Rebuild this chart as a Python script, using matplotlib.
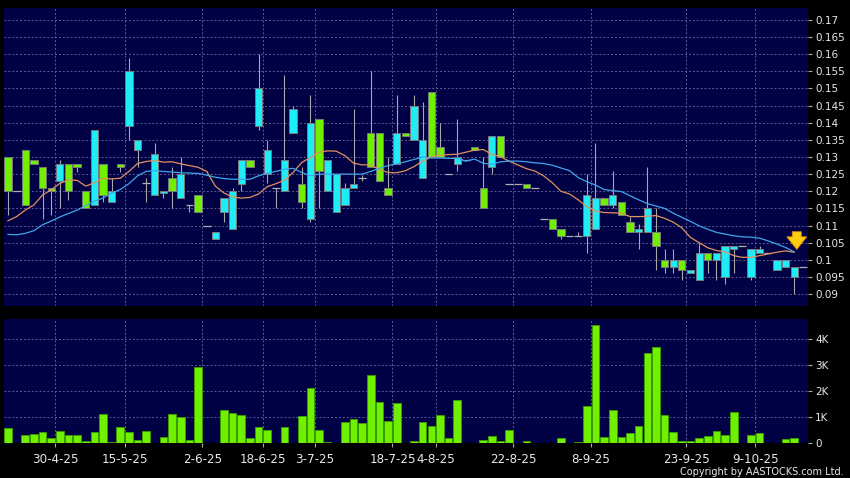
import matplotlib
matplotlib.use("Agg")
import numpy as np
import matplotlib.pyplot as plt

plt.rcParams['font.family'] = ['DejaVu Sans']

# daily candles (one entry per trading slot)
opens = [0.120, 0.120, 0.116, 0.128, 0.121, 0.120, 0.128, 0.120, 0.127, 0.115,
         0.138, 0.119, 0.120, 0.127, 0.155, 0.135, 0.1225, 0.131, 0.120, 0.120,
         0.125, 0.116, 0.114, 0.110, 0.108, 0.118, 0.120, 0.129, 0.127, 0.150,
         0.132, 0.121, 0.129, 0.144, 0.117, 0.140, 0.126, 0.129, 0.125, 0.121,
         0.122, 0.124, 0.127, 0.123, 0.119, 0.137, 0.136, 0.145, 0.135, 0.130,
         0.130, 0.125, 0.130, 0.129, 0.132, 0.115, 0.136, 0.130, 0.122, 0.122,
         0.121, 0.121, 0.112, 0.109, 0.107, 0.107, 0.107, 0.119, 0.118, 0.116,
         0.119, 0.113, 0.108, 0.109, 0.115, 0.104, 0.098, 0.100, 0.097, 0.097,
         0.102, 0.100, 0.102, 0.104, 0.104, 0.104, 0.103, 0.103, 0.102, 0.100,
         0.100, 0.098, 0.098]
highs = [0.130, 0.120, 0.132, 0.129, 0.127, 0.121, 0.129, 0.128, 0.128, 0.120,
         0.138, 0.128, 0.124, 0.128, 0.159, 0.135, 0.124, 0.134, 0.120, 0.127,
         0.130, 0.116, 0.119, 0.110, 0.108, 0.118, 0.121, 0.129, 0.129, 0.160,
         0.135, 0.121, 0.154, 0.145, 0.127, 0.148, 0.141, 0.129, 0.125, 0.1225,
         0.144, 0.1248, 0.155, 0.137, 0.130, 0.148, 0.137, 0.148, 0.146, 0.149,
         0.140, 0.125, 0.141, 0.129, 0.133, 0.130, 0.136, 0.136, 0.122, 0.122,
         0.122, 0.121, 0.112, 0.112, 0.109, 0.107, 0.108, 0.125, 0.134, 0.118,
         0.126, 0.117, 0.1125, 0.1105, 0.127, 0.115, 0.103, 0.103, 0.100, 0.097,
         0.105, 0.102, 0.102, 0.104, 0.104, 0.104, 0.103, 0.104, 0.102, 0.100,
         0.100, 0.098, 0.098]
lows = [0.113, 0.120, 0.116, 0.128, 0.112, 0.113, 0.115, 0.1175, 0.1255, 0.115,
        0.116, 0.117, 0.117, 0.1255, 0.135, 0.127, 0.117, 0.119, 0.118, 0.115,
        0.118, 0.114, 0.114, 0.110, 0.106, 0.111, 0.109, 0.120, 0.127, 0.138,
        0.1225, 0.115, 0.120, 0.137, 0.115, 0.111, 0.115, 0.120, 0.114, 0.116,
        0.121, 0.123, 0.127, 0.123, 0.119, 0.128, 0.136, 0.135, 0.124, 0.130,
        0.130, 0.125, 0.126, 0.129, 0.132, 0.115, 0.125, 0.130, 0.122, 0.122,
        0.121, 0.121, 0.112, 0.109, 0.106, 0.107, 0.107, 0.102, 0.109, 0.116,
        0.115, 0.113, 0.108, 0.103, 0.108, 0.097, 0.096, 0.096, 0.094, 0.096,
        0.094, 0.096, 0.094, 0.093, 0.096, 0.104, 0.094, 0.102, 0.102, 0.097,
        0.098, 0.090, 0.098]
closes = [0.130, 0.120, 0.132, 0.129, 0.127, 0.121, 0.123, 0.128, 0.128, 0.120,
          0.116, 0.128, 0.117, 0.128, 0.139, 0.132, 0.1225, 0.119, 0.1195, 0.124,
          0.118, 0.116, 0.119, 0.110, 0.106, 0.114, 0.109, 0.122, 0.129, 0.139,
          0.125, 0.121, 0.120, 0.137, 0.122, 0.112, 0.141, 0.120, 0.114, 0.116,
          0.121, 0.124, 0.137, 0.137, 0.121, 0.128, 0.137, 0.135, 0.124, 0.149,
          0.133, 0.125, 0.128, 0.129, 0.133, 0.121, 0.127, 0.136, 0.122, 0.122,
          0.122, 0.121, 0.112, 0.112, 0.109, 0.107, 0.107, 0.107, 0.109, 0.118,
          0.116, 0.117, 0.111, 0.108, 0.108, 0.108, 0.100, 0.098, 0.100, 0.096,
          0.094, 0.102, 0.100, 0.095, 0.103, 0.104, 0.095, 0.102, 0.102, 0.097,
          0.098, 0.095, 0.098]
volume_k = [0.57, 0, 0.32, 0.36, 0.44, 0.20, 0.47, 0.31, 0.30, 0.09,
            0.44, 1.11, 0.05, 0.64, 0.42, 0.14, 0.48, 0, 0.25, 1.12,
            1.00, 0.14, 2.91, 0, 0, 1.28, 1.15, 1.08, 0.20, 0.61,
            0.51, 0, 0.64, 0.03, 1.05, 2.12, 0.50, 0.04, 0.02, 0.82,
            0.92, 0.77, 2.60, 1.57, 0.87, 1.54, 0.03, 0.10, 0.83, 0.66,
            1.08, 0.20, 1.65, 0, 0, 0.13, 0.28, 0.10, 0.51, 0,
            0.08, 0, 0, 0, 0.19, 0, 0.05, 1.43, 4.53, 0.23,
            1.28, 0.25, 0.41, 0.66, 3.45, 3.70, 1.08, 0.45, 0.08, 0.08,
            0.20, 0.28, 0.46, 0.32, 1.19, 0.02, 0.32, 0.38, 0, 0.03,
            0.17, 0.20, 0]

# moving averages (slots 0..91)
ma_short = [0.1114, 0.1126, 0.1145, 0.1160, 0.1189, 0.1204, 0.1223, 0.1233, 0.1232, 0.1215,
            0.1225, 0.1238, 0.1236, 0.1238, 0.1258, 0.1281, 0.1287, 0.1290, 0.1285, 0.1286,
            0.1280, 0.1275, 0.1270, 0.1258, 0.1215, 0.1195, 0.1183, 0.1180, 0.1182, 0.1192,
            0.1213, 0.1222, 0.1232, 0.1255, 0.1284, 0.1298, 0.1314, 0.1318, 0.1317, 0.1304,
            0.1282, 0.1277, 0.1277, 0.1263, 0.1255, 0.1254, 0.1260, 0.1272, 0.1288, 0.1300,
            0.1305, 0.1307, 0.1308, 0.1314, 0.1320, 0.1322, 0.1308, 0.1301, 0.1288, 0.1277,
            0.1266, 0.1259, 0.1245, 0.1225, 0.1200, 0.1192, 0.1175, 0.1155, 0.1142, 0.1138,
            0.1137, 0.1136, 0.1126, 0.1126, 0.1127, 0.1129, 0.1121, 0.1110, 0.1093, 0.1065,
            0.1050, 0.1035, 0.1027, 0.1023, 0.1012, 0.1007, 0.1007, 0.1012, 0.1017, 0.1022,
            0.1026, 0.1022]
ma_long = [0.1074, 0.1073, 0.1077, 0.1085, 0.1102, 0.1113, 0.1125, 0.1135, 0.1145, 0.1158,
           0.1171, 0.1180, 0.1195, 0.1205, 0.1222, 0.1245, 0.1258, 0.1260, 0.1258, 0.1256,
           0.1254, 0.1253, 0.1252, 0.1247, 0.1241, 0.1237, 0.1235, 0.1235, 0.1235, 0.1245,
           0.1252, 0.1258, 0.1264, 0.1267, 0.1255, 0.1245, 0.1250, 0.1250, 0.1250, 0.1250,
           0.1250, 0.1250, 0.1258, 0.1267, 0.1275, 0.1280, 0.1286, 0.1293, 0.1300, 0.1297,
           0.1297, 0.1296, 0.1296, 0.1288, 0.1294, 0.1282, 0.1278, 0.1286, 0.1288, 0.1288,
           0.1286, 0.1283, 0.1281, 0.1276, 0.1268, 0.1260, 0.1240, 0.1228, 0.1218, 0.1205,
           0.1202, 0.1199, 0.1187, 0.1175, 0.1164, 0.1157, 0.1150, 0.1136, 0.1124, 0.1112,
           0.1099, 0.1089, 0.1080, 0.1075, 0.1070, 0.1067, 0.1066, 0.1063, 0.1055, 0.1046,
           0.1036, 0.1023]

date_labels = ["30-4-25", "15-5-25", "2-6-25", "18-6-25", "3-7-25", "18-7-25",
               "4-8-25", "22-8-25", "8-9-25", "23-9-25", "9-10-25"]
date_slots = [6, 14, 23, 30, 36, 45, 50, 59, 68, 79, 87]

price_ticks = np.arange(0.09, 0.1701, 0.005)
vol_ticks = [0, 1, 2, 3, 4]

bg = '#000044'
green = '#6ff000'
cyan = '#20ecf8'
grid_c = '#5c5c96'
txt = '#e8e8e8'

fig = plt.figure(figsize=(8.5, 4.78), dpi=100, facecolor='black')
ax = fig.add_axes([4 / 850, 1 - 306 / 478, 804 / 850, 298 / 478])
axv = fig.add_axes([4 / 850, 1 - 443.3 / 478, 804 / 850, 124.3 / 478])

x = np.arange(len(opens))
o = np.array(opens)
c = np.array(closes)
h = np.array(highs)
l = np.array(lows)

for a in (ax, axv):
    a.set_facecolor(bg)
    for s in a.spines.values():
        s.set_visible(False)
    a.set_xlim(-0.46, 92.6)
    a.set_xticks(np.array(date_slots) - 0.5)
    a.grid(True, color=grid_c, linestyle=(0, (2, 2)), linewidth=0.7)
    a.set_axisbelow(True)
    a.yaxis.tick_right()
    a.tick_params(axis='y', direction='out', length=3, color='#aaaaaa',
                  labelcolor=txt, labelsize=7.5, pad=2)

# candles
ax.vlines(x, l, h, color='#a8a8a8', linewidth=0.8, zorder=2)
up = c > o
down = c < o
flat = c == o
ax.bar(x[up], (c - o)[up], bottom=o[up], width=0.84, color=green,
       edgecolor='#7a7a7a', linewidth=0.7, zorder=3)
ax.bar(x[down], (o - c)[down], bottom=c[down], width=0.84, color=cyan,
       edgecolor='#7a7a7a', linewidth=0.7, zorder=3)
ax.hlines(o[flat], x[flat] - 0.45, x[flat] + 0.45, color='#b0b0b0',
          linewidth=0.9, zorder=3)

xm = np.arange(len(ma_short))
ax.plot(xm, ma_short, color='#e39060', linewidth=0.9, zorder=4)
ax.plot(xm, ma_long, color='#3ea6ec', linewidth=0.9, zorder=4)

ax.annotate('', xy=(xm[-1] + 0.3, ma_short[-1]), xytext=(xm[-1] + 0.3, ma_short[-1] + 0.0068),
            arrowprops=dict(arrowstyle='simple,head_length=0.7,head_width=1.1,tail_width=0.5',
                            fc='#ffcc10', ec='#e08800', lw=0.6, mutation_scale=13), zorder=6)

ax.set_ylim(0.0865, 0.1735)
ax.set_yticks(price_ticks)
ax.set_yticklabels([f"{v:g}" for v in np.round(price_ticks, 3)])
ax.tick_params(axis='x', length=0, labelbottom=False)

# volume
axv.bar(x, volume_k, width=0.88, color=green, edgecolor='#3d9a00', linewidth=0.7, zorder=3)
axv.set_ylim(0, 4.76)
axv.set_yticks(vol_ticks)
axv.set_yticklabels(["0" if v == 0 else f"{v}K" for v in vol_ticks])
axv.set_xticklabels(date_labels)
axv.tick_params(axis='x', direction='out', length=3, color='#aaaaaa',
                labelcolor=txt, labelsize=8.6, pad=4)

fig.text(0.993, 0.003, "Copyright by AASTOCKS.com Ltd.", color=txt, fontsize=7,
         ha='right', va='bottom')

fig.savefig("out.png", dpi=100, facecolor='black')
